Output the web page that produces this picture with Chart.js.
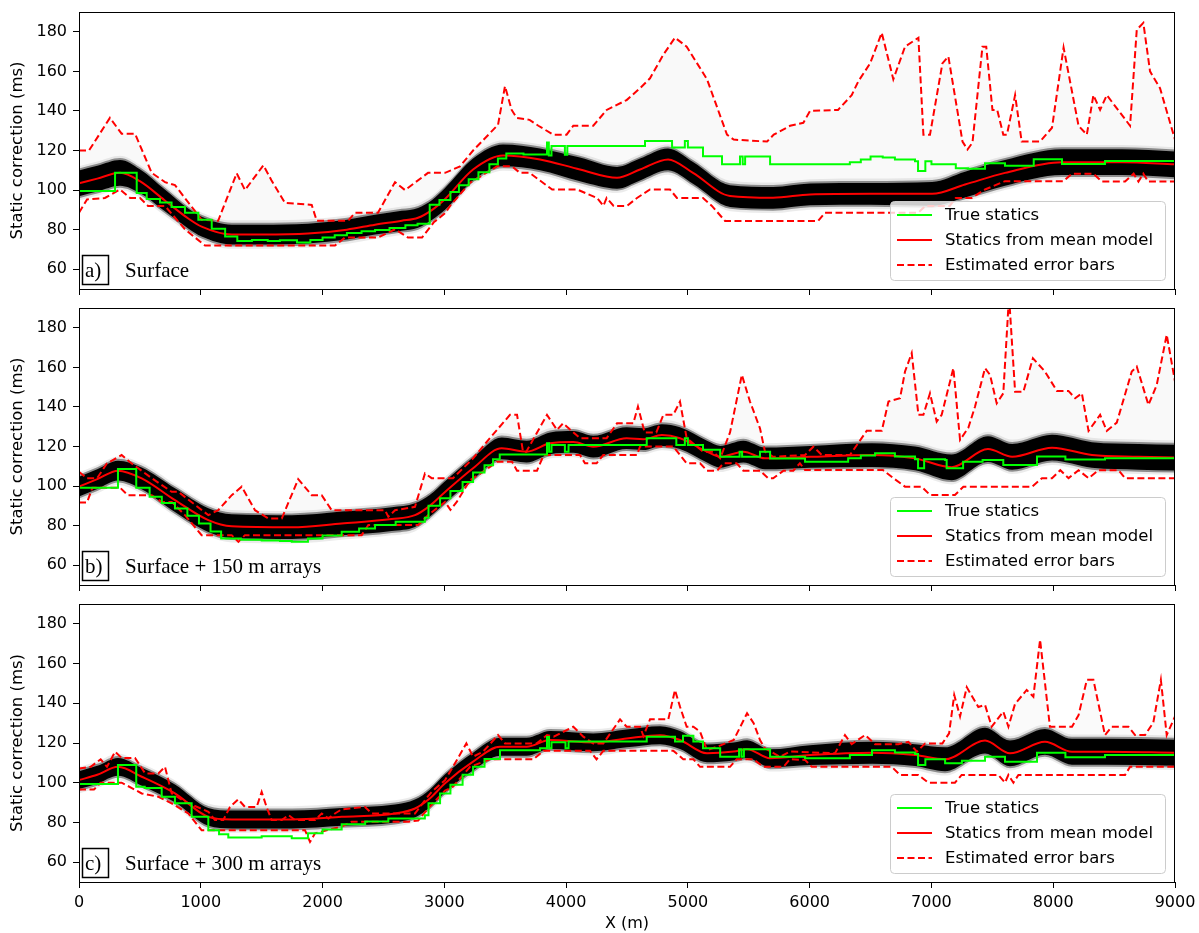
<!DOCTYPE html>
<html>
<head>
<meta charset="utf-8">
<script src="https://cdn.jsdelivr.net/npm/chart.js@4.4.1/dist/chart.umd.min.js"></script>
<style>
  body { margin: 0; background: #fff; overflow: hidden; }
  canvas { position: absolute; left: 0; }
</style>
</head>
<body>
<canvas id="pa" width="1199" height="297" style="top:0px"></canvas>
<canvas id="pb" width="1199" height="296" style="top:297px"></canvas>
<canvas id="pc" width="1199" height="340" style="top:593px"></canvas>
<script>
// ---- data: [x (m), static (ms)] ----
const xTicks = [0, 1000, 2000, 3000, 4000, 5000, 6000, 7000, 8000, 9000];
const yTicks = [60, 80, 100, 120, 140, 160, 180];

// panel a) Surface
const greenA = [[0,99.5],[296,108.8],[474,98.5],[556,95.5],[665,93.7],[760,91.5],[870,88.5],[980,85],[1090,80.5],[1200,76.5],[1300,74.2],[1420,74.8],[1550,74.3],[1650,74.6],[1790,73.5],[1900,74.8],[2000,76],[2100,77.2],[2200,78.3],[2320,79.2],[2431,79.8],[2550,80.8],[2680,82.2],[2780,83],[2880,92.6],[2960,95],[3050,99],[3120,102.5],[3200,105.5],[3280,109],[3370,113],[3440,116],[3509,118.5],[3650,118],[3843,124],[3858,117.5],[3880,122.3],[3990,117.8],[4010,122.3],[4648,124.8],[4870,121.5],[4975,124.8],[5000,121.5],[5124,117.1],[5280,113],[5428,117],[5450,113],[5470,117],[5675,113],[6330,114],[6420,115.5],[6500,117],[6600,116.5],[6700,115.5],[6865,114.6],[6890,109.6],[6950,114.6],[7000,113],[7200,111],[7300,110.8],[7440,113.6],[7604,112.3],[7840,115.6],[8072,113.2],[8425,114.7],[9000,115]];
const meanA = [[0,103.4],[150,105.8],[337,108.7],[500,104.5],[700,95],[900,85.5],[1007,81.5],[1254,77.5],[1500,77.5],[1880,78],[2200,80],[2431,82.5],[2650,84.5],[2784,86],[2900,90],[3006,95.5],[3236,110.4],[3482,117.5],[3786,115.5],[4114,110.4],[4418,106.2],[4607,110.4],[4837,115.5],[5042,108.7],[5346,97],[5699,96.1],[6003,97.8],[6500,98.1],[7005,98.1],[7276,102.8],[7604,108.7],[8072,114.1],[8565,114.1],[9000,113]];
const bandHalfA = [6.5,6.5,6.5,6,5.5,5,5,5,5,5,5,5,5,5,5,5.5,5.5,5.5,5.5,6,5.5,5.5,5.5,5.5,5.5,5.5,5.5,5.5,6,6.5,6.5,6.5,6.5,6.5];
const upperA = [[0,120],[82,120],[254,136.5],[350,128.5],[460,128.5],[597,108.7],[706,104],[788,102.5],[1007,85],[1143,84.5],[1295,108.5],[1363,100],[1514,112.5],[1580,105],[1692,93.5],[1911,92.5],[1952,84.5],[2210,84.5],[2266,88.5],[2455,88.5],[2595,104],[2677,100],[2866,108.7],[3006,108.7],[3129,112],[3236,120],[3441,133],[3498,152.5],[3553,140.5],[3594,136.5],[3700,135.5],[3772,132.5],[3895,128],[4004,128],[4059,132.5],[4223,132.5],[4333,140.5],[4497,145.5],[4607,151.5],[4689,156.5],[4799,168.5],[4894,177],[4990,172.5],[5157,156],[5321,128],[5376,125.5],[5650,124.5],[5705,128],[5839,132.5],[5948,134],[6003,140],[6233,140.5],[6345,148],[6400,155],[6496,164],[6592,179.5],[6687,156],[6783,172.5],[6893,177],[6934,128],[6988,128],[7090,164],[7139,167.5],[7255,124.5],[7296,120.5],[7337,124],[7419,172.5],[7450,172.5],[7501,140.5],[7540,140.5],[7590,128],[7620,128],[7687,148],[7741,124.5],[7892,124.5],[7990,131.5],[8085,172],[8208,132.5],[8276,128],[8330,148],[8385,140.5],[8440,148],[8631,132.5],[8686,181],[8740,184.5],[8795,160],[8877,151.5],[9000,125.5]];
const lowerA = [[0,88.5],[66,95.3],[213,96],[337,100.3],[420,96],[501,96],[567,92],[706,92],[870,80.2],[953,76],[1035,72],[2102,72],[2184,76],[2455,76],[2596,80.2],[2702,76],[2817,76],[2913,83.7],[3006,88.3],[3047,92],[3211,103.7],[3433,112],[3556,112],[3621,108.7],[3700,108.7],[3885,100.3],[4090,100.3],[4254,96],[4306,92],[4333,96],[4390,92],[4500,92],[4582,96],[4689,100.3],[4853,100.3],[4910,96],[5124,96],[5197,92],[5305,84.4],[6070,84.4],[6126,88.6],[6893,88.6],[6950,92],[7150,92],[7200,96],[7330,96],[7440,100.3],[7604,104.5],[8085,104.5],[8154,108.3],[8330,108.3],[8400,104.3],[8590,104.3],[8660,108.3],[8700,104.3],[8740,108.3],[8780,104.3],[9000,104.3]];

// panel b) Surface + 150 m arrays
const greenB = [[0,99.2],[320,108.6],[470,99.2],[580,94.6],[680,91.5],[788,88.7],[890,85],[985,81.1],[1080,77],[1167,73.5],[1330,72.9],[1500,72.5],[1650,72.2],[1747,71.8],[1880,73.5],[2000,75],[2157,76.9],[2300,78.5],[2431,80.3],[2600,82],[2840,84],[2870,90],[2965,93.8],[3050,97.5],[3150,102],[3236,106.8],[3330,110.5],[3400,113.5],[3455,116],[3843,121.6],[3860,117.4],[3880,120.8],[3990,117.4],[4020,120.8],[4662,124.2],[4905,120.8],[4975,124.2],[5000,120.8],[5124,118.4],[5265,114.8],[5425,117.4],[5445,114.8],[5592,117.4],[5675,113.9],[5962,112.3],[6316,114],[6420,115.5],[6537,116.6],[6700,115],[6865,113.6],[6890,109],[6940,113.6],[7112,113.2],[7125,109],[7260,112.3],[7420,113.2],[7590,110.7],[7867,115],[8100,113.4],[8425,114],[9000,114.8]];
const meanB = [[0,99.7],[150,103.5],[320,107.8],[515,103.9],[788,92.9],[1062,82.8],[1254,79.7],[1747,79.2],[2157,81.1],[2568,83.3],[2759,85.3],[2880,90],[3006,97],[3236,109],[3471,119.1],[3676,117.4],[3868,121.6],[4059,122.3],[4223,119.9],[4497,124.2],[4635,123.7],[4786,125.8],[4935,124.2],[5157,117.4],[5265,114.8],[5455,117.4],[5633,114],[6003,114.8],[6510,115.7],[6865,114],[7166,109.5],[7464,118.7],[7663,114.8],[7990,119.4],[8318,115.7],[8700,114.8],[9000,114.4]];
const bandHalfB = [5,5,5,5.5,6,6,6,6,6,6,6,5.5,5.5,5.5,5.5,5.5,5.5,5.5,5.5,5.5,5.5,5.5,5.5,5.5,5.5,5.5,5.5,5.5,6,6,6.5,6.5,6.5,6.5,6.5,6.5,6.5];
const upperB = [[0,107.2],[66,103.9],[148,103.9],[230,111.5],[350,115.7],[420,112],[597,104],[761,97.1],[815,97.1],[1062,85.3],[1143,87.8],[1254,95.4],[1336,99.7],[1445,87.8],[1555,83.6],[1665,83.6],[1800,103.5],[1911,95.4],[1993,95.4],[2075,87.8],[2513,87.8],[2540,84.5],[2595,87.8],[2759,89.5],[2841,106.4],[2896,104],[3071,104],[3236,114],[3374,124.2],[3539,136],[3597,136],[3646,117.4],[3673,117.4],[3843,136],[3925,128.4],[3975,131.7],[4114,124.2],[4333,124.2],[4418,131.7],[4552,131.7],[4590,140.2],[4645,127.1],[4741,127.1],[4799,136],[4880,136],[4935,142.7],[4990,124.2],[5124,117.4],[5206,117.4],[5265,114],[5346,127.1],[5443,156.2],[5510,142.7],[5592,129.2],[5633,117.4],[5700,114.8],[5962,115.7],[6030,119.9],[6100,115.7],[6331,115.7],[6468,127.9],[6592,127.9],[6647,142.7],[6742,144.4],[6783,157.9],[6838,167.2],[6893,136],[6934,136],[6988,146.9],[7043,132.6],[7084,136],[7180,159.6],[7235,123.3],[7303,129.5],[7358,140.2],[7440,159.6],[7481,156.2],[7536,141.8],[7590,146.9],[7637,196],[7687,147.7],[7755,147.7],[7833,164.6],[7932,157.9],[8030,148.1],[8125,148.1],[8180,144.4],[8235,146.9],[8290,127.9],[8385,136],[8440,127.9],[8522,132.1],[8645,157.9],[8686,160.4],[8782,141],[8850,151.1],[8932,176.5],[9000,152.8]];
const lowerB = [[0,91.7],[66,91.7],[110,99.2],[337,99.2],[400,95.4],[597,95.4],[679,92],[761,92],[870,85.3],[1007,75.2],[1254,75.2],[1309,71.8],[1363,75.2],[2321,75.2],[2376,80.3],[2786,80.3],[2866,85.3],[3006,92],[3050,88],[3102,92],[3211,103],[3318,107.2],[3433,112.3],[3556,112.3],[3597,107.8],[3761,107.8],[3816,115.7],[4114,115.7],[4155,111.5],[4250,111.5],[4305,115.7],[4582,115.7],[4607,120],[4880,120],[4990,111.5],[5100,111.5],[5157,107.8],[5240,107.8],[5292,111.5],[5400,111.5],[5455,107.8],[5592,107.8],[5660,103.9],[5700,103.9],[5785,107.8],[5866,107.8],[5920,111.5],[5962,108.1],[6602,108.1],[6687,104],[6783,99.7],[6920,99.7],[6988,95.5],[7193,95.5],[7262,99.7],[7826,99.7],[7908,104],[7990,104],[8058,108],[8126,104],[8208,108],[8290,104],[8372,108],[8536,108],[8590,104],[9000,104]];

// panel c) Surface + 300 m arrays
const greenC = [[0,99.3],[320,108.9],[470,98],[540,97.3],[679,92.9],[788,89.6],[925,82.8],[1062,76.1],[1150,74],[1226,72.4],[1500,73],[1747,72],[1880,74.6],[2000,76.5],[2157,79.1],[2350,80.5],[2540,82],[2840,83.6],[2870,89.6],[2965,94.6],[3050,99],[3150,104],[3236,108],[3330,112],[3457,116.4],[3786,117.3],[3843,123],[3860,117.3],[3880,120.4],[3995,117.3],[4020,120.8],[4662,123.2],[4894,120.8],[4960,123.7],[5045,120.8],[5124,117.3],[5265,113.1],[5420,116.8],[5440,113.1],[5460,116.8],[5675,113.1],[5962,112.3],[6330,114],[6512,116.4],[6700,115.2],[6865,114.4],[6890,108.9],[6950,111.8],[7112,109.8],[7250,111.1],[7440,113.1],[7604,110.6],[7867,115.1],[8100,112.8],[8425,113.9],[9000,114.4]];
const meanC = [[0,101.3],[150,104],[320,108],[515,103],[788,94.6],[1062,82.8],[1254,81.5],[1747,81.5],[2157,82.8],[2595,84.5],[2759,87],[2880,92],[3006,99.7],[3236,110.6],[3457,118.1],[3676,118.1],[3868,121.5],[4223,120.3],[4497,122.3],[4772,123.9],[4935,121.5],[5157,114.8],[5376,115.7],[5486,116.9],[5675,112.3],[6003,113.9],[6512,115.1],[6865,113.9],[7112,111.8],[7440,121.2],[7645,114.8],[7932,120.6],[8154,115.6],[8425,115.6],[9000,115.1]];
const bandHalfC = [4.5,4.5,4.5,4.5,4.5,4.5,4.5,4.5,4.5,4.5,4.5,4.5,4.5,4.5,4.5,4.5,4.5,4.5,4.5,4.5,4.5,4.5,4.5,4.5,4.5,5,5.5,5.5,6,6.5,6.5,6.5,6.5,6.5,6.5];
const upperC = [[0,107.2],[96,108],[178,111.8],[230,108],[296,115.6],[350,112.5],[460,112.5],[543,104.7],[652,104.7],[706,108],[761,94.6],[870,90.4],[1062,85.4],[1116,81.2],[1185,81.2],[1240,87.8],[1308,91.6],[1363,87.8],[1459,87.8],[1500,95.4],[1540,87.8],[1582,81.2],[1665,81.2],[1720,83.7],[1774,81.2],[1938,81.2],[1993,84.5],[2048,82],[2102,84.5],[2157,86.6],[2349,87.8],[2403,84.5],[2759,84.5],[2841,91.2],[2896,95.4],[3006,101.3],[3071,108],[3181,119.8],[3236,113.1],[3318,115.6],[3441,124],[3498,119.8],[3759,119.8],[3843,124],[3898,123.2],[4059,128.2],[4141,123.2],[4223,119.8],[4306,119.8],[4443,131.9],[4497,128.2],[4607,128.2],[4635,123.5],[4689,131.9],[4839,131.9],[4894,146.7],[4935,138.3],[4990,128.2],[5045,128.2],[5100,125.7],[5157,116.4],[5240,118.1],[5376,121.5],[5486,135],[5540,130],[5592,121.5],[5633,117.3],[5756,113],[5838,115.7],[6208,114.8],[6290,124],[6345,119.4],[6455,124],[6537,119.4],[6728,119.4],[6811,120.6],[6880,115.6],[6948,119.8],[7090,119.8],[7145,124.9],[7187,144.2],[7235,133.4],[7290,148.1],[7385,138.1],[7440,139.2],[7495,128.2],[7590,135.8],[7632,128.2],[7686,139.6],[7782,146.7],[7837,143.3],[7892,172],[7973,128.2],[8154,128.2],[8208,134],[8276,151.8],[8330,151.8],[8425,124],[8480,128.2],[8617,128.2],[8672,124],[8754,124],[8822,130.3],[8884,151.8],[8932,124],[9000,133.4]];
const lowerC = [[0,96.6],[123,96.6],[178,100],[350,100],[434,97.3],[515,94.6],[652,92.9],[761,89.6],[898,84.5],[1007,76.1],[1856,76.1],[1897,70.2],[1938,74.5],[2157,77.9],[2239,80.4],[2705,80.4],[2786,81],[2866,87],[3006,96],[3071,98],[3211,108],[3374,111.8],[3731,111.8],[3816,116.1],[4196,116.1],[4250,111.8],[4306,116.1],[4880,116.1],[4962,111.8],[5045,111.8],[5100,108],[5346,108],[5400,111.8],[5540,111.8],[5620,108],[5785,108],[5838,111.8],[5962,111.5],[6017,108],[6674,108],[6742,103.9],[6893,103.9],[6975,100],[7193,100],[7248,103.9],[7549,103.9],[7604,100],[7632,103.9],[7673,100],[7714,103.9],[8590,103.9],[8631,108],[9000,108]];

Chart.defaults.font.family = 'DejaVu Sans';
Chart.defaults.font.size = 16;
Chart.defaults.color = '#000';

const toPts = arr => arr.map(p => ({ x: p[0], y: p[1] }));

// frame, panel tag and legend
const panelDeco = {
  id: 'panelDeco',
  afterDraw(chart, args, opts) {
    const { ctx, chartArea: a } = chart;
    ctx.save();
    ctx.strokeStyle = '#000';
    ctx.lineWidth = 1;
    ctx.strokeRect(a.left + 0.5, a.top + 0.5, a.right - a.left - 1, a.bottom - a.top);

    // tag box
    ctx.lineWidth = 1.5;
    ctx.strokeRect(a.left + 3.5, a.bottom - 33.5, 26, 29);
    ctx.fillStyle = '#000';
    ctx.font = '21px "Liberation Serif"';
    ctx.textBaseline = 'alphabetic';
    ctx.textAlign = 'left';
    ctx.fillText(opts.tag, a.left + 6, a.bottom - 12);
    ctx.fillText(opts.title, a.left + 46, a.bottom - 12);

    // legend
    const w = 275, h = 79;
    const lx = a.right - 10 - w, ly = a.bottom - 9 - h;
    ctx.beginPath();
    ctx.roundRect(lx + 0.5, ly + 0.5, w, h, 4);
    ctx.fillStyle = 'rgba(255,255,255,0.8)';
    ctx.fill();
    ctx.strokeStyle = '#cccccc';
    ctx.lineWidth = 1;
    ctx.stroke();
    const ds = chart.data.datasets;
    [0, 1, 2].forEach((k, i) => {
      const y = ly + 14 + 25 * i;
      ctx.beginPath();
      ctx.setLineDash(ds[k].borderDash || []);
      ctx.strokeStyle = ds[k].borderColor;
      ctx.lineWidth = 2;
      ctx.moveTo(lx + 7, y);
      ctx.lineTo(lx + 42, y);
      ctx.stroke();
      ctx.setLineDash([]);
      ctx.fillStyle = '#000';
      ctx.font = '16.5px "DejaVu Sans"';
      ctx.textBaseline = 'middle';
      ctx.fillText(ds[k].label, lx + 55, y + 1);
    });
    ctx.restore();
  }
};

function bandPair(mean, half, extra, color, order) {
  const top = mean.map((p, i) => ({ x: p[0], y: p[1] + half[i] + extra }));
  const bot = mean.map((p, i) => ({ x: p[0], y: p[1] - half[i] - extra }));
  const base = { pointRadius: 0, borderWidth: 1, borderColor: 'rgba(0,0,0,0)', cubicInterpolationMode: 'monotone', order };
  return [
    Object.assign({ label: 'band', data: top, fill: false }, base),
    Object.assign({ label: 'band', data: bot, fill: '-1', backgroundColor: color }, base)
  ];
}

function makePanel(id, d) {
  const datasets = [
    { label: 'True statics', data: toPts(d.green), borderColor: '#00ff00', borderWidth: 2, stepped: true, pointRadius: 0, order: 0 },
    { label: 'Statics from mean model', data: toPts(d.mean), borderColor: '#ff0000', borderWidth: 2, cubicInterpolationMode: 'monotone', pointRadius: 0, order: 0 },
    { label: 'Estimated error bars', data: toPts(d.upper), borderColor: '#ff0000', borderWidth: 2, borderDash: [7, 3.5], pointRadius: 0, fill: { target: 1 }, backgroundColor: d.haze, order: 1 },
    { label: 'lower', data: toPts(d.lower), borderColor: '#ff0000', borderWidth: 2, borderDash: [7, 3.5], pointRadius: 0, order: 0 },
    ...bandPair(d.mean, d.half, 2.2, 'rgba(0,0,0,0.08)', 4),
    ...bandPair(d.mean, d.half, 1, 'rgba(0,0,0,0.4)', 3),
    ...bandPair(d.mean, d.half, 0, 'rgba(0,0,0,1)', 2)
  ];
  const gridOpts = { drawOnChartArea: false, drawTicks: true, tickLength: 6, color: '#000', tickColor: '#000', tickWidth: 1 };
  return new Chart(document.getElementById(id), {
    type: 'line',
    data: { datasets },
    options: {
      responsive: false,
      animation: false,
      events: [],
      layout: { padding: { top: d.padTop, right: 24, left: 0, bottom: 0 } },
      plugins: {
        legend: { display: false },
        tooltip: { enabled: false },
        panelDeco: { tag: d.tag, title: d.title }
      },
      scales: {
        x: {
          type: 'linear', min: 0, max: 9000,
          afterBuildTicks: s => { s.ticks = xTicks.map(v => ({ value: v })); },
          ticks: { display: d.showX, padding: 5, maxRotation: 0, autoSkip: false, callback: v => String(v) },
          grid: gridOpts,
          border: { display: true, color: '#000' },
          title: { display: d.showX, text: 'X (m)', font: { size: 16 }, padding: { top: 0, bottom: 0 } },
          afterFit: s => { s.height = d.xh; s.paddingLeft = 0; s.paddingRight = 0; }
        },
        y: {
          type: 'linear', min: 50, max: 190,
          afterBuildTicks: s => { s.ticks = yTicks.map(v => ({ value: v })); },
          ticks: { padding: 6, callback: v => String(v) },
          grid: gridOpts,
          border: { display: true, color: '#000' },
          title: { display: true, text: 'Static correction (ms)', font: { size: 16.5 }, padding: { top: 8, bottom: 8 } },
          afterFit: s => { s.width = 79; s.paddingTop = 0; s.paddingBottom = 0; }
        }
      }
    },
    plugins: [panelDeco]
  });
}

makePanel('pa', { green: greenA, mean: meanA, half: bandHalfA, upper: upperA, lower: lowerA, haze: 'rgba(0,0,0,0.025)', tag: 'a)', title: 'Surface', padTop: 12, xh: 8, showX: false });
makePanel('pb', { green: greenB, mean: meanB, half: bandHalfB, upper: upperB, lower: lowerB, haze: 'rgba(0,0,0,0.025)', tag: 'b)', title: 'Surface + 150 m arrays', padTop: 11, xh: 8, showX: false });
makePanel('pc', { green: greenC, mean: meanC, half: bandHalfC, upper: upperC, lower: lowerC, haze: 'rgba(0,0,0,0.02)', tag: 'c)', title: 'Surface + 300 m arrays', padTop: 11, xh: 51, showX: true });
</script>
</body>
</html>
